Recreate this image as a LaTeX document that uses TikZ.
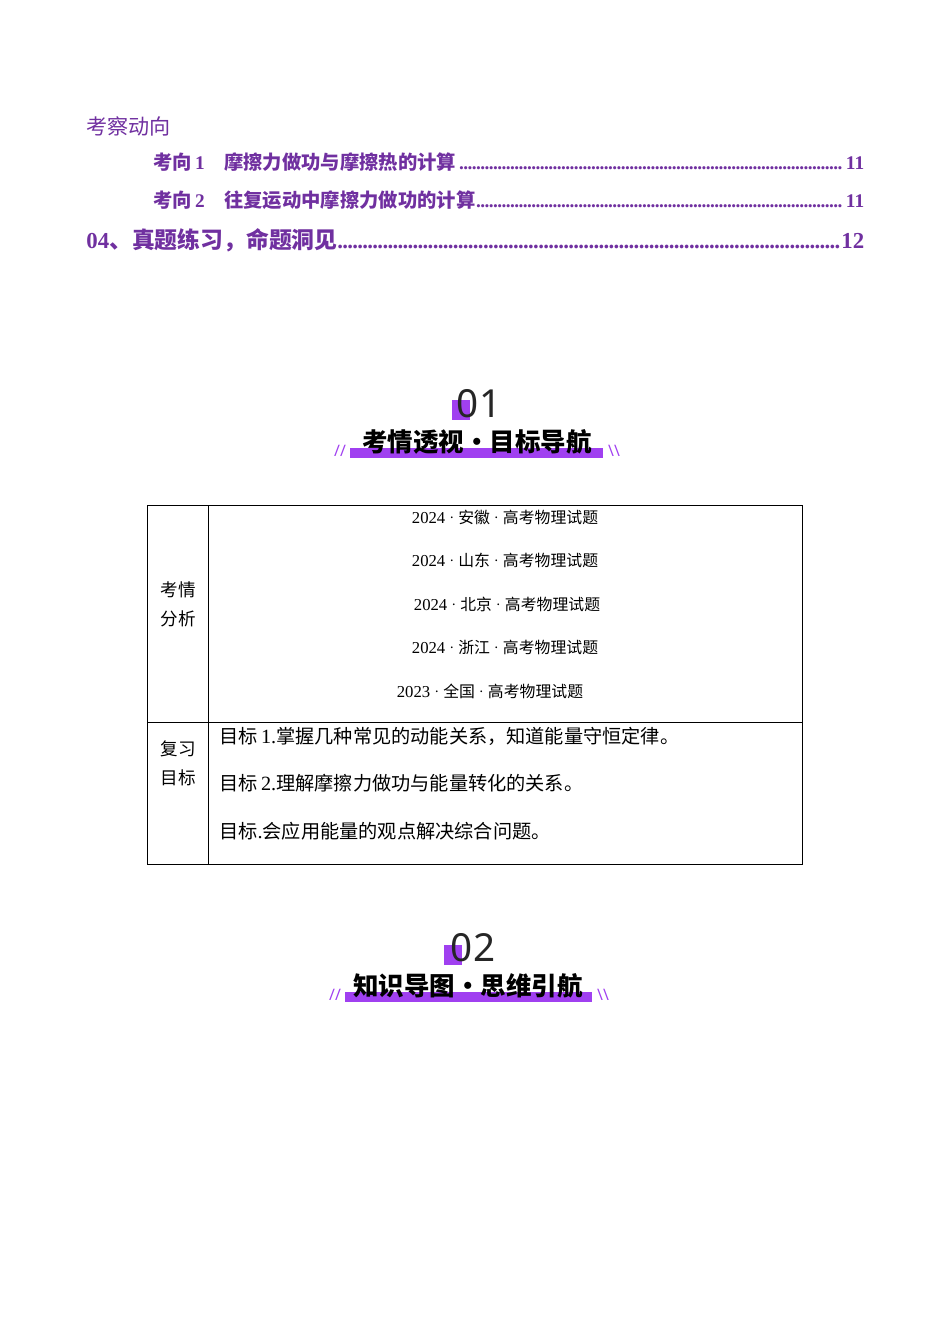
\documentclass[tikz,border=0pt]{standalone}
\usepackage{fontspec}
\setmainfont{Liberation Serif}
\setsansfont{Noto Sans}
\newfontfamily\cjk{Noto Sans CJK SC}
\newfontfamily\cjks{Noto Sans CJK SC}[Scale=0.95]
\usetikzlibrary{positioning}
\definecolor{tocpurple}{HTML}{7030A0}
\definecolor{barpurple}{HTML}{A040F0}
\tikzset{
    x=0.02cm, y=-0.02cm,
    toc/.style={anchor=west, text=tocpurple, font=\bfseries\fontsize{11}{13}\selectfont, inner sep=0pt},
    cell/.style={font=\fontsize{9.5}{11}\selectfont, inner sep=0pt},
    goal/.style={cell, anchor=west, font=\fontsize{11.5}{13}\selectfont},
    side/.style={cell, align=center, font=\cjk\fontsize{10}{16.5}\selectfont},
    slash/.style={text=barpurple, font=\sffamily\fontsize{9}{9}\selectfont, inner sep=0pt},
    bar/.style={fill=barpurple, draw=none},
    headline/.style={font=\cjk\bfseries\fontsize{14.5}{16}\selectfont},
    num/.style={font=\sffamily\fontsize{22}{24}\selectfont, text=black!85}
}
\newcommand{\tdots}{\leaders\hbox to 0.22em{\hss.\hss}\hfill}
\newcommand{\tocline}[3]{\makebox[#1][l]{#2\tdots#3}}
\newcommand{\md}{{\fontfamily{lmr}\selectfont\char"B7}}
\begin{document}
\begin{tikzpicture}
\useasboundingbox (0,0) rectangle (950,1344);
% contents
\node[toc, font=\cjk\fontsize{12}{14}\selectfont] (tochead) at (86,126) {考察动向};
\node[toc] (toc1) at (153,162) {\tocline{14.22cm}{{\cjk 考向}\,1\quad{\cjk 摩擦力做功与摩擦热的计算}}{11}};
\node[toc] (toc2) at (153,200) {\tocline{14.22cm}{{\cjk 考向}\,2\quad{\cjk 往复运动中摩擦力做功的计算}}{11}};
\node[toc, font=\bfseries\fontsize{13}{15}\selectfont] (toc3) at (86,240) {\tocline{15.56cm}{04{\cjk 、真题练习，命题洞见}}{12}};
% header 01
\fill[bar] (452,400) rectangle (470,420);
\node[num] (n1) at (479,404) {01};
\fill[bar] (350,448) rectangle (603,458);
\node[headline] (h1) at (477,442) {考情透视·目标导航};
\node[slash] (s1a) at (340,451) {//};
\node[slash] (s1b) at (614,451) {\textbackslash\textbackslash};
% table
\draw[line width=0.5pt] (147,505) rectangle (802,864);
\draw[line width=0.5pt] (208,505) -- (208,864) (147,722) -- (802,722);
\node[side] (ka) at (178,604) {考情\\分析};
\node[side] (fx) at (178,763) {复习\\目标};
\node[cell] (e1) at (505,517) {2024\md{\cjks 安徽}\md{\cjks 高考物理试题}};
\node[cell] (e2) at (505,560) {2024\md{\cjks 山东}\md{\cjks 高考物理试题}};
\node[cell] (e3) at (507,604) {2024\md{\cjks 北京}\md{\cjks 高考物理试题}};
\node[cell] (e4) at (505,647) {2024\md{\cjks 浙江}\md{\cjks 高考物理试题}};
\node[cell] (e5) at (490,691) {2023\md{\cjks 全国}\md{\cjks 高考物理试题}};
\node[goal] (g1) at (219,736) {{\cjks 目标}\,1.{\cjks 掌握几种常见的动能关系，知道能量守恒定律。}};
\node[goal] (g2) at (219,783) {{\cjks 目标}\,2.{\cjks 理解摩擦力做功与能量转化的关系。}};
\node[goal] (g3) at (219,831) {{\cjks 目标}.{\cjks 会应用能量的观点解决综合问题。}};
% header 02
\fill[bar] (444,945) rectangle (462,965);
\node[num] (n2) at (473,948) {02};
\fill[bar] (345,992) rectangle (592,1002);
\node[headline] (h2) at (468,986) {知识导图·思维引航};
\node[slash] (s2a) at (335,995) {//};
\node[slash] (s2b) at (603,995) {\textbackslash\textbackslash};
\end{tikzpicture}
\end{document}
